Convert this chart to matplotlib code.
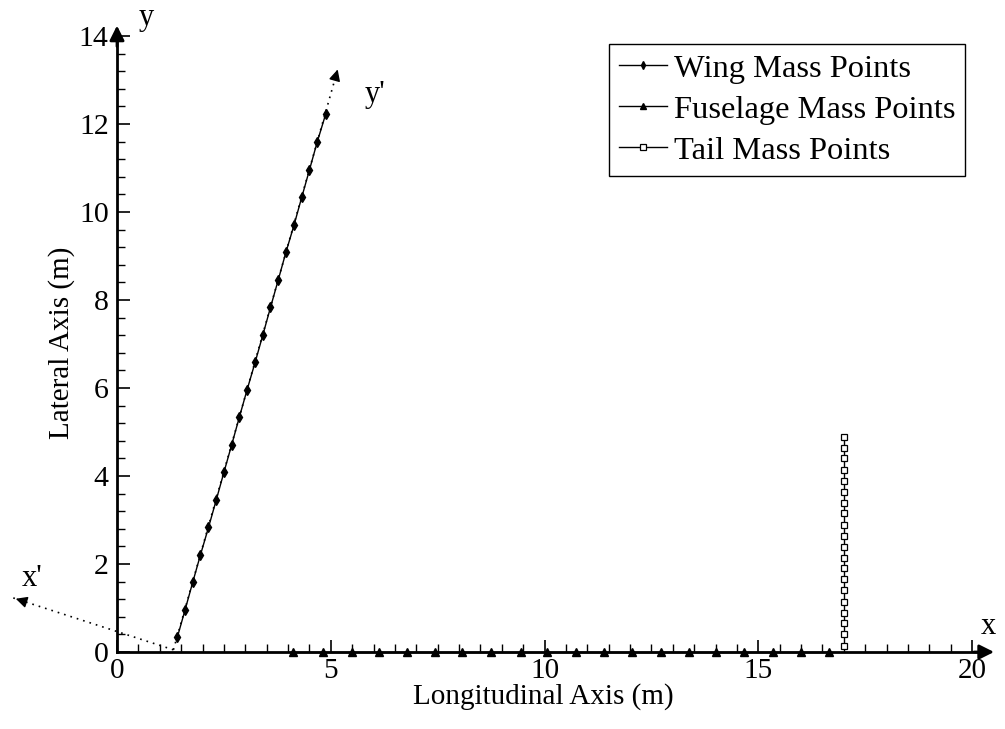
import numpy as np
import matplotlib
matplotlib.use("Agg")
import matplotlib.pyplot as plt

plt.rcParams['font.family'] = ['Liberation Serif', 'DejaVu Serif']

# ---------------- data ----------------
wing_x = [1.41, 1.59, 1.77, 1.95, 2.14, 2.32, 2.50, 2.68, 2.86, 3.04,
          3.23, 3.41, 3.59, 3.77, 3.95, 4.14, 4.32, 4.50, 4.68, 4.88]
wing_y = [0.33, 0.95, 1.58, 2.20, 2.83, 3.45, 4.08, 4.70, 5.33, 5.95,
          6.58, 7.20, 7.83, 8.45, 9.08, 9.70, 10.33, 10.95, 11.58, 12.22]

fuselage_x = [4.12, 4.81, 5.49, 6.13, 6.78, 7.45, 8.08, 8.76, 9.44, 10.07,
              10.73, 11.39, 12.05, 12.72, 13.37, 14.01, 14.67, 15.35, 16.00, 16.66]
fuselage_y = [0.0] * 20

tail_x = [17.0] * 20
tail_y = [0.14, 0.40, 0.65, 0.89, 1.14, 1.41, 1.65, 1.90, 2.14, 2.39,
          2.64, 2.89, 3.15, 3.39, 3.64, 3.89, 4.14, 4.40, 4.63, 4.88]

# rotated wing frame (x', y')
frame_origin = (1.32, 0.05)
xprime_tip = (-2.43, 1.23)
yprime_tip = (5.18, 13.30)

x_major = [0, 5, 10, 15, 20]
y_major = [0, 2, 4, 6, 8, 10, 12, 14]
x_end = 20.58
y_end = 14.30

legend_labels = ['Wing Mass Points', 'Fuselage Mass Points', 'Tail Mass Points']

# ---------------- figure ----------------
W, H = 1005, 729
fig = plt.figure(figsize=(W / 100, H / 100), dpi=100)
ax = fig.add_axes([0, 0, 1, 1])
px_x0, px_y0, sx, sy = 117.0, 652.0, 42.75, 44.0
ax.set_xlim(-px_x0 / sx, (W - px_x0) / sx)
ax.set_ylim((px_y0 - H) / sy, px_y0 / sy)

# axes spines through origin
for s in ['top', 'right']:
    ax.spines[s].set_visible(False)
ax.spines['left'].set_position(('data', 0))
ax.spines['bottom'].set_position(('data', 0))
ax.spines['left'].set_bounds(0, y_end - 0.2)
ax.spines['bottom'].set_bounds(0, x_end - 0.2)
ax.spines['left'].set_linewidth(2.0)
ax.spines['bottom'].set_linewidth(2.0)

ax.set_xticks(x_major)
ax.set_xticks(np.arange(0, 20.01, 0.5), minor=True)
ax.set_yticks(y_major)
ax.set_yticks(np.arange(0, 14.01, 0.4), minor=True)
ax.set_xticklabels([str(v) for v in x_major])
ax.set_yticklabels([str(v) for v in y_major])
ax.tick_params(which='major', direction='in', length=9, width=1.2, labelsize=21, pad=4)
ax.tick_params(which='minor', direction='in', length=6, width=1.0)
ax.tick_params(axis='y', which='major', pad=6, labelsize=21.5)

# axis arrows
ax.annotate('', xy=(x_end, 0), xytext=(x_end - 0.6, 0),
            arrowprops=dict(arrowstyle='-|>', color='black', lw=2, mutation_scale=22))
ax.annotate('', xy=(0, y_end), xytext=(0, y_end - 0.6),
            arrowprops=dict(arrowstyle='-|>', color='black', lw=2, mutation_scale=22))

# rotated frame (dotted) with arrows
ax.plot([frame_origin[0], xprime_tip[0]], [frame_origin[1], xprime_tip[1]],
        linestyle=(0, (1, 3)), color='black', lw=1.2)
ax.plot([frame_origin[0], yprime_tip[0]], [frame_origin[1], yprime_tip[1]],
        linestyle=(0, (1, 3)), color='black', lw=1.2)
for tip in (xprime_tip, yprime_tip):
    d = np.array(tip) - np.array(frame_origin)
    d = d / np.linalg.norm(d)
    ax.annotate('', xy=tip, xytext=(tip[0] - 0.3 * d[0], tip[1] - 0.3 * d[1]),
                arrowprops=dict(arrowstyle='-|>', color='black', lw=1.0, mutation_scale=17))

# data series
ax.plot(wing_x, wing_y, '-', color='black', lw=1.0, marker='d', markersize=5,
        label=legend_labels[0], zorder=3)
ax.plot(fuselage_x, fuselage_y, '-', color='black', lw=1.0, marker='^', markersize=6,
        label=legend_labels[1], zorder=3)
ax.plot(tail_x, tail_y, '-', color='black', lw=1.0, marker='s', markersize=5,
        markerfacecolor='white', markeredgewidth=0.9, label=legend_labels[2], zorder=3)

# axis letters
ax.text(20.38, 0.57, 'x', fontsize=22, ha='center', va='center')
ax.text(0.68, 14.41, 'y', fontsize=22, ha='center', va='center')
ax.text(6.04, 12.66, "y'", fontsize=22, ha='center', va='center')
ax.text(-1.99, 1.68, "x'", fontsize=22, ha='center', va='center')

# axis titles
fig.text(543 / W, 1 - 697 / H, 'Longitudinal Axis (m)', fontsize=21, ha='center', va='center')
fig.text(62 / W, 1 - 343 / H, 'Lateral Axis (m)', fontsize=21, ha='center', va='center',
         rotation=90)

leg = ax.legend(loc='upper right', bbox_to_anchor=(965 / W, 1 - 44 / H),
                bbox_transform=fig.transFigure, fontsize=23.4, frameon=True,
                fancybox=False, framealpha=1, edgecolor='black', handlelength=1.5,
                handletextpad=0.2, borderpad=0.3, labelspacing=0.35, borderaxespad=0)
leg.get_frame().set_linewidth(1.0)
for h in leg.legend_handles:
    h.set_markersize(4)

fig.savefig('out.png', dpi=100)
